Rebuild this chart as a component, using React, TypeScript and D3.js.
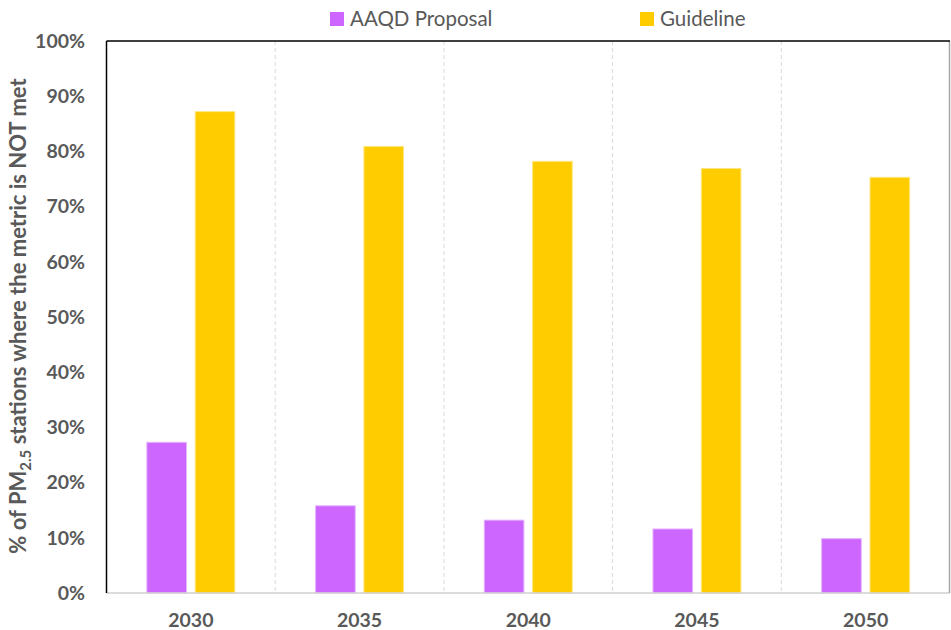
import React from "react";
import * as d3 from "d3";

// Share of PM2.5 monitoring stations not meeting each metric, by year
const years = ["2030", "2035", "2040", "2045", "2050"];
const seriesNames = ["AAQD Proposal", "Guideline"];
const aaqdProposal = [27.3, 15.8, 13.2, 11.6, 9.85];
const guideline = [87.2, 80.9, 78.2, 76.9, 75.3];
const yTicks = [0, 10, 20, 30, 40, 50, 60, 70, 80, 90, 100];
const seriesColors = ["#CC66FF", "#FFCC00"];
const seriesEdge = ["#E6B3FF", "#FFE680"];

const W = 951;
const H = 630;
const margin = { top: 41, right: 1, bottom: 37, left: 106.5 };
const FONT = "Lato, 'Open Sans', sans-serif";
const TEXT = "#595959";

export default function App() {
  const x0 = d3
    .scaleBand<string>()
    .domain(years)
    .range([margin.left, W - margin.right])
    .padding(0);
  const y = d3
    .scaleLinear()
    .domain([0, 100])
    .range([H - margin.bottom, margin.top]);
  const groupW = 88;
  const values = [aaqdProposal, guideline];

  const plotBottom = y(0);
  const plotTop = y(100);

  return (
    <svg
      width={W}
      height={H}
      style={{ position: "fixed", left: 0, top: 0, background: "#fff" }}
      fontFamily={FONT}
    >
      <rect x={0} y={0} width={W} height={H} fill="#fff" />

      {/* category separators */}
      {years.slice(1).map((yr) => (
        <line
          key={"g" + yr}
          x1={x0(yr)!}
          x2={x0(yr)!}
          y1={plotTop}
          y2={plotBottom}
          stroke="#D9D9D9"
          strokeWidth={1}
          strokeDasharray="4,3"
        />
      ))}

      {/* bars */}
      {years.map((yr, i) => {
        const c = x0(yr)! + x0.bandwidth() / 2;
        const x1 = d3
          .scaleBand<number>()
          .domain([0, 1])
          .range([c - groupW / 2, c + groupW / 2])
          .paddingInner(0.18);
        return values.map((vals, s) => (
          <rect
            key={yr + "-" + s}
            x={x1(s)!}
            y={y(vals[i])}
            width={x1.bandwidth()}
            height={plotBottom - y(vals[i])}
            fill={seriesColors[s]}
            stroke={seriesEdge[s]}
            strokeWidth={1}
          />
        ));
      })}

      {/* frame */}
      <line x1={margin.left} x2={W - margin.right} y1={plotBottom} y2={plotBottom} stroke="#D0D0D0" strokeWidth={1.5} />
      <line x1={W - margin.right - 0.5} x2={W - margin.right - 0.5} y1={plotTop} y2={plotBottom} stroke="#A6A6A6" strokeWidth={1.5} />
      <line x1={margin.left} x2={W - margin.right} y1={plotTop} y2={plotTop} stroke="#000" strokeWidth={1.5} />
      <line x1={margin.left} x2={margin.left} y1={plotTop} y2={plotBottom} stroke="#000" strokeWidth={1.5} />

      {/* y tick labels */}
      {yTicks.map((t) => (
        <text
          key={"yt" + t}
          x={85}
          y={y(t)}
          dy="0.35em"
          textAnchor="end"
          fontSize={19.5}
          fontWeight={700}
          fill={TEXT}
        >
          {t}%
        </text>
      ))}

      {/* x tick labels */}
      {years.map((yr) => (
        <text
          key={"xt" + yr}
          x={x0(yr)! + x0.bandwidth() / 2}
          y={620}
          dy="0.35em"
          textAnchor="middle"
          fontSize={19.5}
          fontWeight={700}
          fill={TEXT}
        >
          {yr}
        </text>
      ))}

      {/* y axis title */}
      <text
        transform={`translate(26, 316) rotate(-90)`}
        textAnchor="middle"
        fontSize={22}
        fontWeight={700}
        fill={TEXT}
      >
        % of PM
        <tspan fontSize={15} dy={5}>2.5</tspan>
        <tspan dy={-5}> stations where the metric is NOT met</tspan>
      </text>

      {/* legend */}
      {seriesNames.map((name, s) => {
        const lx = s === 0 ? 330 : 640;
        return (
          <g key={"lg" + name}>
            <rect x={lx} y={12} width={14} height={14} fill={seriesColors[s]} />
            <text x={lx + 20} y={19} dy="0.35em" fontSize={20.5} fill={TEXT}>
              {name}
            </text>
          </g>
        );
      })}
    </svg>
  );
}
